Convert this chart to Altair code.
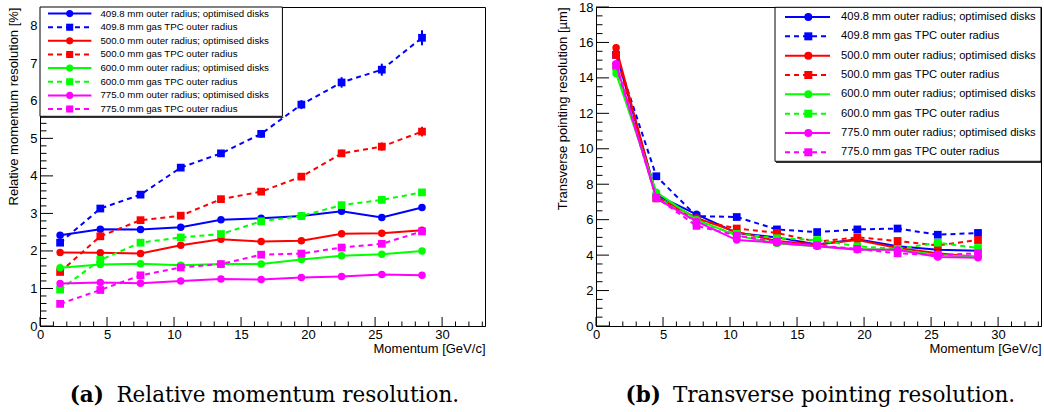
import altair as alt
import pandas as pd

# ---------------- data ----------------
momentum = [1.5, 4.5, 7.5, 10.5, 13.5, 16.5, 19.5, 22.5, 25.5, 28.5]

series_names = [
    "409.8 mm outer radius; optimised disks",
    "409.8 mm gas TPC outer radius",
    "500.0 mm outer radius; optimised disks",
    "500.0 mm gas TPC outer radius",
    "600.0 mm outer radius; optimised disks",
    "600.0 mm gas TPC outer radius",
    "775.0 mm outer radius; optimised disks",
    "775.0 mm gas TPC outer radius",
]
series_colors = ["#0000ff", "#0000ff", "#ff0000", "#ff0000",
                 "#00ff00", "#00ff00", "#ff00ff", "#ff00ff"]
series_dashed = [False, True, False, True, False, True, False, True]

# Relative momentum resolution [%]
mom_blue_opt = [2.42, 2.58, 2.57, 2.63, 2.83, 2.87, 2.93, 3.06, 2.89, 3.16]
mom_blue_tpc = [2.22, 3.13, 3.50, 4.22, 4.60, 5.12, 5.90, 6.49, 6.83, 7.68]
mom_red_opt = [1.96, 1.95, 1.93, 2.15, 2.31, 2.25, 2.27, 2.46, 2.47, 2.55]
mom_red_tpc = [1.44, 2.39, 2.82, 2.94, 3.38, 3.58, 3.98, 4.60, 4.78, 5.18]
mom_green_opt = [1.55, 1.64, 1.66, 1.62, 1.65, 1.65, 1.77, 1.87, 1.91, 2.00]
mom_green_tpc = [0.97, 1.76, 2.22, 2.36, 2.45, 2.79, 2.93, 3.22, 3.36, 3.56]
mom_mag_opt = [1.13, 1.16, 1.14, 1.20, 1.25, 1.24, 1.29, 1.32, 1.37, 1.35]
mom_mag_tpc = [0.59, 0.96, 1.35, 1.56, 1.65, 1.90, 1.93, 2.09, 2.19, 2.52]
mom_blue_tpc_err = [0.02, 0.04, 0.05, 0.07, 0.08, 0.10, 0.12, 0.14, 0.16, 0.20]
mom_red_tpc_err = [0.02, 0.03, 0.04, 0.05, 0.06, 0.07, 0.08, 0.10, 0.11, 0.13]

# Transverse pointing resolution [um]
pt_blue_opt = [15.4, 7.4, 6.3, 5.25, 5.0, 4.6, 4.9, 4.5, 4.3, 4.25]
pt_blue_tpc = [15.3, 8.45, 6.2, 6.15, 5.45, 5.3, 5.45, 5.5, 5.15, 5.25]
pt_red_opt = [15.7, 7.3, 6.1, 5.3, 4.8, 4.6, 4.85, 4.4, 4.1, 3.9]
pt_red_tpc = [15.3, 7.2, 6.0, 5.5, 5.25, 4.75, 5.0, 4.8, 4.55, 4.85]
pt_green_opt = [14.25, 7.55, 6.0, 5.1, 4.65, 4.5, 4.35, 4.3, 4.0, 3.9]
pt_green_tpc = [14.6, 7.3, 5.85, 5.2, 4.95, 4.85, 4.5, 4.35, 4.7, 4.4]
pt_mag_opt = [14.8, 7.2, 5.9, 4.85, 4.7, 4.5, 4.3, 4.3, 3.9, 3.85]
pt_mag_tpc = [14.7, 7.25, 5.65, 5.1, 4.75, 4.55, 4.35, 4.1, 4.0, 4.1]

mom_values = [mom_blue_opt, mom_blue_tpc, mom_red_opt, mom_red_tpc,
              mom_green_opt, mom_green_tpc, mom_mag_opt, mom_mag_tpc]
mom_errors = [None, mom_blue_tpc_err, None, mom_red_tpc_err, None, None, None, None]
pt_values = [pt_blue_opt, pt_blue_tpc, pt_red_opt, pt_red_tpc,
             pt_green_opt, pt_green_tpc, pt_mag_opt, pt_mag_tpc]
pt_errors = [None] * 8

x_major = [0, 5, 10, 15, 20, 25, 30]
x_minor = [v for v in range(0, 34) if v % 5 != 0]

# ---------------- layout constants ----------------
W, H = 445, 319
XMAX = 33.2
FONT = "Liberation Sans"
SERIF = "DejaVu Serif"
one = pd.DataFrame({"a": [0]})


def panel(values, errors, ymax, y_major, y_minor, ytitle, leg, caption):
    xs = alt.Scale(domain=[0, XMAX], nice=False, zero=False)
    ys = alt.Scale(domain=[0, ymax], nice=False, zero=False)
    x_axis = alt.Axis(values=x_major, title="Momentum [GeV/c]", titleAnchor="end",
                      labelPadding=2, titlePadding=1)
    y_axis = alt.Axis(values=y_major, title=ytitle, titleAnchor="end",
                      labelPadding=3, titlePadding=9)
    layers = []
    for i, vals in enumerate(values):
        df = pd.DataFrame({"x": momentum, "y": vals})
        c = series_colors[i]
        line_kw = dict(color=c, strokeWidth=2)
        if series_dashed[i]:
            line_kw["strokeDash"] = [5, 4]
        base = alt.Chart(df).encode(
            x=alt.X("x:Q", scale=xs, axis=x_axis),
            y=alt.Y("y:Q", scale=ys, axis=y_axis),
        )
        layers.append(base.mark_line(**line_kw))
        if errors[i] is not None:
            edf = pd.DataFrame({"x": momentum,
                                "lo": [v - e for v, e in zip(vals, errors[i])],
                                "hi": [v + e for v, e in zip(vals, errors[i])]})
            layers.append(alt.Chart(edf).mark_rule(color=c, strokeWidth=2).encode(
                x=alt.X("x:Q", scale=xs, axis=x_axis),
                y=alt.Y("lo:Q", scale=ys, axis=y_axis),
                y2="hi:Q"))
        if series_dashed[i]:
            layers.append(base.mark_point(shape="square", filled=True, size=60,
                                          color=c, opacity=1))
        else:
            layers.append(base.mark_point(shape="circle", filled=True, size=56,
                                          color=c, opacity=1))

    # inward ticks (ROOT style)
    def xticks(vals, ln):
        return alt.Chart(pd.DataFrame({"x": vals})).mark_rule(color="black", strokeWidth=1).encode(
            x=alt.X("x:Q", scale=xs, axis=x_axis), y=alt.value(H), y2=alt.value(H - ln))

    def yticks(vals, ln):
        return alt.Chart(pd.DataFrame({"y": vals})).mark_rule(color="black", strokeWidth=1).encode(
            y=alt.Y("y:Q", scale=ys, axis=y_axis), x=alt.value(0), x2=alt.value(ln))

    layers += [xticks(x_major, 9), xticks(x_minor, 4.5),
               yticks(y_major, 13), yticks(y_minor, 6.5)]

    # legend
    bx0, bx1, by0, by1 = leg["box"]
    layers.append(alt.Chart(one).mark_rect(fill="white", stroke="black", strokeWidth=1).encode(
        x=alt.value(bx0), x2=alt.value(bx1), y=alt.value(by0), y2=alt.value(by1)))
    layers.append(alt.Chart(one).mark_rule(color="black", strokeWidth=1).encode(
        x=alt.value(bx0 + 1), x2=alt.value(bx1 + 1), y=alt.value(by1 + 1)))
    for i, name in enumerate(series_names):
        yy = leg["row0"] + leg["dy"] * i
        c = series_colors[i]
        kw = dict(color=c, strokeWidth=2)
        if series_dashed[i]:
            kw["strokeDash"] = [5, 4]
        layers.append(alt.Chart(one).mark_rule(**kw).encode(
            x=alt.value(leg["lx0"]), x2=alt.value(leg["lx1"]), y=alt.value(yy)))
        layers.append(alt.Chart(one).mark_point(
            shape="square" if series_dashed[i] else "circle", filled=True,
            size=leg["msize"], color=c, opacity=1).encode(
            x=alt.value(leg["mx"]), y=alt.value(yy)))
        layers.append(alt.Chart(one).mark_text(
            text=name, align="left", baseline="middle", font=FONT,
            fontSize=leg["fs"], color="black").encode(
            x=alt.value(leg["tx"]), y=alt.value(yy)))

    # caption
    bold, rest, cx_b, cx_t, cy = caption
    layers.append(alt.Chart(one).mark_text(
        text=bold, align="left", baseline="alphabetic", font=SERIF, fontSize=21.5,
        fontWeight="bold", color="black").encode(x=alt.value(cx_b), y=alt.value(cy)))
    layers.append(alt.Chart(one).mark_text(
        text=rest, align="left", baseline="alphabetic", font=SERIF, fontSize=21.5,
        color="black").encode(x=alt.value(cx_t), y=alt.value(cy)))

    return alt.layer(*layers).properties(width=W, height=H)


left_leg = dict(box=(0, 242.4, 0, 109.3), row0=6.6, dy=13.63,
                lx0=8, lx1=51.4, mx=29.7, tx=60.4, fs=9.7, msize=50)
right_leg = dict(box=(179, 445, 0.3, 154.3), row0=10, dy=19.33,
                 lx0=189, lx1=234, mx=212.3, tx=245, fs=11.2, msize=64)

left = panel(mom_values, mom_errors, 8.5, list(range(0, 9)),
             [round(v * 0.2, 1) for v in range(0, 43) if v % 5 != 0],
             "Relative momentum resolution [%]", left_leg,
             ("(a)", "Relative momentum resolution.", 29.7, 76.4, 395))
right = panel(pt_values, pt_errors, 18, list(range(0, 19, 2)),
              [v * 0.5 for v in range(0, 37) if v % 4 != 0],
              "Transverse pointing resolution [\u00b5m]", right_leg,
              ("(b)", "Transverse pointing resolution.", 29.5, 76.9, 395))

chart = alt.hconcat(left, right, spacing=70).properties(
    padding={"left": 7, "top": 0, "right": 0, "bottom": 0},
    background="white",
).configure_view(
    stroke="black", strokeWidth=1
).configure_axis(
    labelFont=FONT, titleFont=FONT, labelFontSize=13, titleFontSize=13,
    titleFontWeight="normal", labelColor="black", titleColor="black",
    domainColor="black", domainWidth=1, ticks=False, grid=False,
    labelFlush=False, labelOverlap=False,
)

chart.save("out.html", embed_options={"renderer": "svg", "actions": False})
